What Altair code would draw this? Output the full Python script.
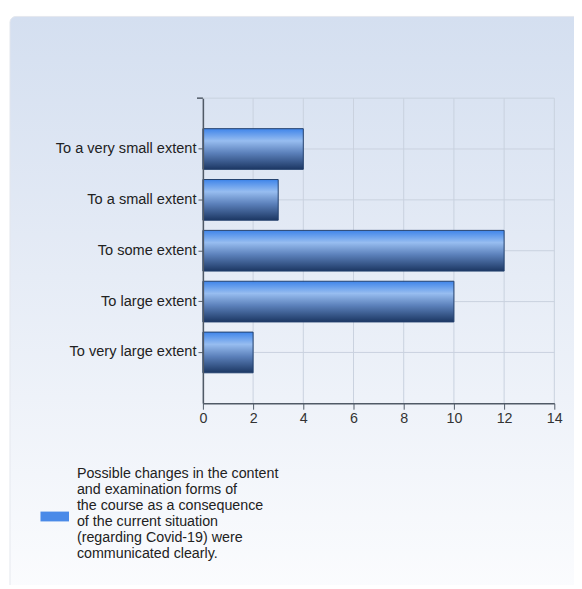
import altair as alt
import pandas as pd

categories = ["To a very small extent", "To a small extent", "To some extent",
              "To large extent", "To very large extent"]
values = [4, 3, 12, 10, 2]
series_name = ("Possible changes in the content\nand examination forms of\nthe course as a consequence\n"
               "of the current situation\n(regarding Covid-19) were\ncommunicated clearly.")
x_ticks = [0, 2, 4, 6, 8, 10, 12, 14]

df = pd.DataFrame({"category": categories, "value": values})
xgrid_df = pd.DataFrame({"v": x_ticks})
ygrid_df = pd.DataFrame({"category": categories})

W, H = 357, 310
PAD_L, PAD_T = 198, 87
GRID = "#c9d1de"
AX = "#505a66"

bar_grad = alt.LinearGradient(
    gradient="linear", x1=0, y1=0, x2=0, y2=1,
    stops=[alt.GradientStop(color="#3f85ea", offset=0),
           alt.GradientStop(color="#97bdf0", offset=0.3),
           alt.GradientStop(color="#5b80ba", offset=0.6),
           alt.GradientStop(color="#1c3763", offset=1)])

bg_grad = alt.LinearGradient(
    gradient="linear", x1=0, y1=0, x2=0, y2=1,
    stops=[alt.GradientStop(color="#d4dff0", offset=0),
           alt.GradientStop(color="#e6ecf6", offset=0.45),
           alt.GradientStop(color="#fbfcfe", offset=1)])

panel = alt.Chart(pd.DataFrame({"a": [0]})).mark_rect(
    fill=bg_grad, cornerRadius=6, stroke="#e4e8ee", strokeWidth=1
).encode(x=alt.value(10 - 8 - PAD_L), x2=alt.value(620 - 8 - PAD_L),
         y=alt.value(12 - 8 - PAD_T), y2=alt.value(600 - 8 - PAD_T))

xscale = alt.Scale(domain=[0, 14], nice=False)
yscale = alt.Scale(domain=categories, paddingInner=0.2, paddingOuter=0.6)

xgrid = alt.Chart(xgrid_df).mark_rule(color=GRID, strokeWidth=1).encode(
    x=alt.X("v:Q", scale=xscale), y=alt.value(0), y2=alt.value(H))
ygrid = alt.Chart(ygrid_df).mark_rule(color=GRID, strokeWidth=1).encode(
    y=alt.Y("category:N", scale=yscale, sort=categories), x=alt.value(0), x2=alt.value(W))
top_line = alt.Chart(pd.DataFrame({"a": [0]})).mark_rule(color=GRID, strokeWidth=1).encode(
    y=alt.value(0), x=alt.value(0), x2=alt.value(W))
top_tick = alt.Chart(pd.DataFrame({"a": [0]})).mark_rule(color=AX, strokeWidth=1.5).encode(
    y=alt.value(0), x=alt.value(-6), x2=alt.value(0))

bars = alt.Chart(df).mark_bar(
    fill=bar_grad, stroke="#223f6c", strokeWidth=1
).encode(
    x=alt.X("value:Q", scale=xscale,
            axis=alt.Axis(values=x_ticks, title=None, grid=False, zindex=1,
                          domainColor=AX, tickColor=AX, tickSize=6, labelFlush=False,
                          labelFontSize=14.5, labelColor="#333333", labelPadding=3,
                          labelFont="Liberation Sans", domainWidth=1.5)),
    y=alt.Y("category:N", scale=yscale, sort=categories,
            axis=alt.Axis(title=None, grid=False, zindex=1,
                          domainColor=AX, tickColor=AX, tickSize=5,
                          labelFontSize=14.8, labelColor="#222222", labelPadding=2,
                          labelFont="Liberation Sans", labelLimit=300, domainWidth=1.5)),
)

legend_df = pd.DataFrame({"name": [series_name]})
swatch = alt.Chart(legend_df).mark_rect(fill="#4a8ae8").encode(
    x=alt.value(41 - 8 - PAD_L), x2=alt.value(70 - 8 - PAD_L),
    y=alt.value(515 - 8 - PAD_T), y2=alt.value(525 - 8 - PAD_T))
legend_text = alt.Chart(legend_df).mark_text(
    align="left", baseline="middle", lineBreak="\n", lineHeight=16.2,
    fontSize=14.5, font="Liberation Sans", color="#222222"
).encode(x=alt.value(78 - 8 - PAD_L), y=alt.value(477 - 8 - PAD_T), text="name:N")

chart = alt.layer(panel, xgrid, ygrid, top_line, bars, top_tick, swatch, legend_text).properties(
    width=W, height=H,
    autosize=alt.AutoSizeParams(type="none"),
    padding={"left": PAD_L, "top": PAD_T, "right": 20, "bottom": 180},
    background="white",
).configure_view(stroke=None)

chart.save("out.html", embed_options={"renderer": "svg", "actions": False})
